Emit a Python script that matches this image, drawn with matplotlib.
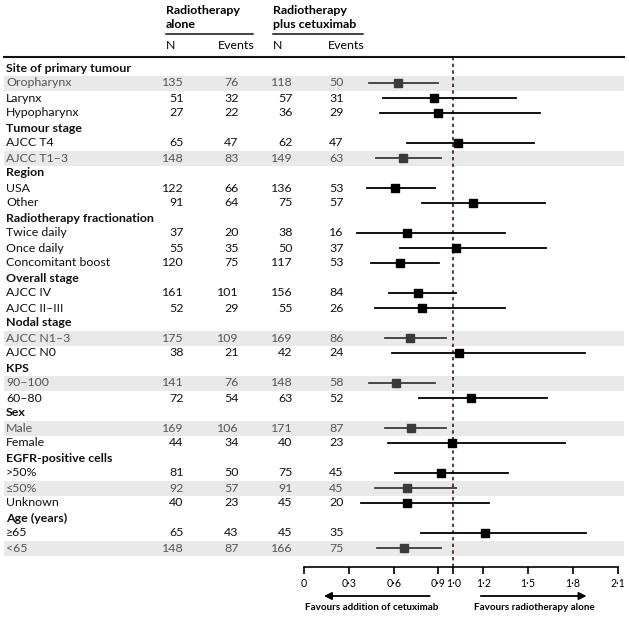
import matplotlib
matplotlib.use("Agg")
import matplotlib.pyplot as plt
import matplotlib.transforms as mtransforms
from matplotlib.patches import Rectangle

plt.rcParams['font.family'] = ['Lato', 'DejaVu Sans']

# Subgroup rows (None = group heading)
labels = ["Site of primary tumour", "Oropharynx", "Larynx", "Hypopharynx",
          "Tumour stage", "AJCC T4", "AJCC T1–3",
          "Region", "USA", "Other",
          "Radiotherapy fractionation", "Twice daily", "Once daily", "Concomitant boost",
          "Overall stage", "AJCC IV", "AJCC II–III",
          "Nodal stage", "AJCC N1–3", "AJCC N0",
          "KPS", "90–100", "60–80",
          "Sex", "Male", "Female",
          "EGFR-positive cells", ">50%", "≤50%", "Unknown",
          "Age (years)", "≥65", "<65"]
n_rt = [None, 135, 51, 27, None, 65, 148, None, 122, 91, None, 37, 55, 120, None, 161, 52,
        None, 175, 38, None, 141, 72, None, 169, 44, None, 81, 92, 40, None, 65, 148]
ev_rt = [None, 76, 32, 22, None, 47, 83, None, 66, 64, None, 20, 35, 75, None, 101, 29,
         None, 109, 21, None, 76, 54, None, 106, 34, None, 50, 57, 23, None, 43, 87]
n_cx = [None, 118, 57, 36, None, 62, 149, None, 136, 75, None, 38, 50, 117, None, 156, 55,
        None, 169, 42, None, 148, 63, None, 171, 40, None, 75, 91, 45, None, 45, 166]
ev_cx = [None, 50, 31, 29, None, 47, 63, None, 53, 57, None, 16, 37, 53, None, 84, 26,
         None, 86, 24, None, 58, 52, None, 87, 23, None, 45, 45, 20, None, 35, 75]
hr = [None, 0.63, 0.87, 0.90, None, 1.03, 0.66, None, 0.61, 1.13, None, 0.69, 1.02, 0.64,
      None, 0.76, 0.79, None, 0.71, 1.04, None, 0.615, 1.12, None, 0.715, 0.99,
      None, 0.92, 0.69, 0.69, None, 1.215, 0.67]
ci_lo = [None, 0.435, 0.53, 0.51, None, 0.69, 0.48, None, 0.42, 0.79, None, 0.355, 0.64, 0.45,
         None, 0.57, 0.475, None, 0.54, 0.59, None, 0.435, 0.77, None, 0.54, 0.56,
         None, 0.61, 0.475, 0.38, None, 0.78, 0.49]
ci_hi = [None, 0.90, 1.42, 1.58, None, 1.54, 0.92, None, 0.88, 1.61, None, 1.345, 1.62, 0.905,
         None, 1.015, 1.345, None, 0.95, 1.88, None, 0.875, 1.63, None, 0.95, 1.75,
         None, 1.365, 1.02, 1.24, None, 1.89, 0.92]
shaded = ["Oropharynx", "AJCC T1–3", "AJCC N1–3", "90–100", "Male", "≤50%", "<65"]

ticks = [0, 0.3, 0.6, 0.9, 1.0, 1.2, 1.5, 1.8, 2.1]
tick_labels = ["0", "0·3", "0·6", "0·9", "1·0", "1·2", "1·5", "1·8", "2·1"]

FS = 8.9
W, H = 629, 617
fig = plt.figure(figsize=(W / 100, H / 100), dpi=100)

# forest axes: x 0..2.1 from px 304 to 617.7, top rule at 57 px, axis at 567 px
left, right, top, bottom = 304, 617.7, 57, 567
ax = fig.add_axes([left / W, 1 - bottom / H, (right - left) / W, (bottom - top) / H])
row0, step = 68, 15
ax.set_ylim((bottom - row0) / step, (top - row0) / step)
ax.set_xlim(0, 2.1)
for s in ['left', 'right', 'top']:
    ax.spines[s].set_visible(False)
ax.spines['bottom'].set_linewidth(1.2)
ax.set_yticks([])
ax.set_xticks(ticks)
ax.set_xticklabels(tick_labels, fontsize=7.6)
ax.tick_params(axis='x', direction='out', length=5, width=1.2, pad=3)

tr = mtransforms.blended_transform_factory(fig.transFigure, ax.transData)
fx = lambda px: px / W

for i, lab in enumerate(labels):
    head = n_rt[i] is None
    grey = lab in shaded
    col = '#555555' if grey else '#111111'
    if grey:
        ax.add_patch(Rectangle((fx(4), i - 0.5), fx(624) - fx(4), 1.0, transform=tr,
                               facecolor='#e9e9e9', edgecolor='none', clip_on=False, zorder=0))
    ax.text(fx(6), i, lab, transform=tr, va='center', ha='left', color=col,
            fontsize=FS, fontweight='bold' if head else 'normal')
    if head:
        continue
    for val, xr in [(n_rt[i], 183.5), (ev_rt[i], 238.5), (n_cx[i], 292.5), (ev_cx[i], 343.5)]:
        ax.text(fx(xr), i, str(val), transform=tr, va='center', ha='right',
                color=col, fontsize=FS)
    mcol = '#3a3a3a' if grey else '#000000'
    ax.plot([ci_lo[i], ci_hi[i]], [i, i], color=mcol, lw=1.3, zorder=3)
    ax.plot(hr[i], i, marker='s', color=mcol, markersize=5.5, zorder=4)

ax.axvline(1.0, color='#4a1414', lw=1.2, linestyle=(0, (2, 2)), zorder=2)

# header
fy = lambda py: 1 - py / H
fig.text(fx(166), fy(10), "Radiotherapy", fontsize=FS, fontweight='bold', va='center')
fig.text(fx(166), fy(24.5), "alone", fontsize=FS, fontweight='bold', va='center')
fig.text(fx(273), fy(10), "Radiotherapy", fontsize=FS, fontweight='bold', va='center')
fig.text(fx(273), fy(24.5), "plus cetuximab", fontsize=FS, fontweight='bold', va='center')
fig.add_artist(plt.Line2D([fx(166), fx(253)], [fy(34), fy(34)], color='#111111', lw=1.1))
fig.add_artist(plt.Line2D([fx(273), fx(363)], [fy(34), fy(34)], color='#111111', lw=1.1))
for txt, px in [("N", 166), ("Events", 218), ("N", 273), ("Events", 328)]:
    fig.text(fx(px), fy(45.5), txt, fontsize=FS, va='center')
fig.add_artist(plt.Line2D([fx(4), fx(624)], [fy(57), fy(57)], color='#111111', lw=1.5))

# direction arrows
tr2 = mtransforms.blended_transform_factory(ax.transData, fig.transFigure)
arrow = dict(arrowstyle='-|>', lw=1.3, color='black', mutation_scale=11)
ax.annotate("", xy=(0.115, fy(596)), xytext=(0.86, fy(596)), xycoords=tr2,
            textcoords=tr2, arrowprops=arrow, annotation_clip=False)
ax.annotate("", xy=(1.91, fy(596)), xytext=(1.165, fy(596)), xycoords=tr2,
            textcoords=tr2, arrowprops=arrow, annotation_clip=False)
ax.text(0.455, fy(608), "Favours addition of cetuximab", transform=tr2, ha='center',
        va='center', fontsize=7.1, fontweight='bold')
ax.text(1.54, fy(608), "Favours radiotherapy alone", transform=tr2, ha='center',
        va='center', fontsize=7.1, fontweight='bold')

fig.savefig("out.png", dpi=100, facecolor='white')
